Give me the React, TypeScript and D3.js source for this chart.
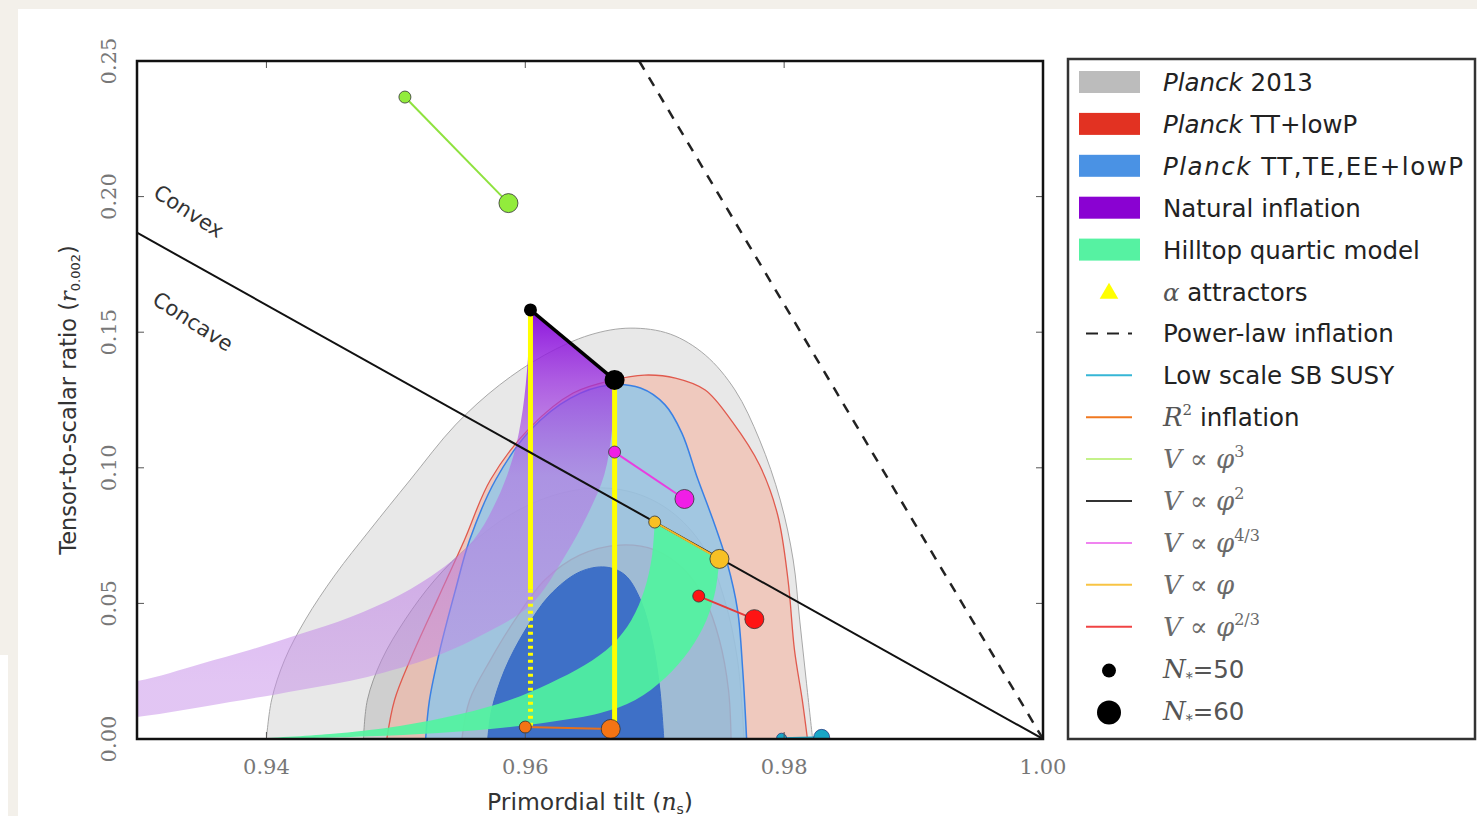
import React from 'react';
import * as d3 from 'd3';

const W = 1477;
const H = 816;

// axes
const xDomain: [number, number] = [0.93, 1.0];
const yDomain: [number, number] = [0, 0.25];
const xTicks = [0.94, 0.96, 0.98, 1.0];
const yTicks = [0, 0.05, 0.1, 0.15, 0.2, 0.25];

// Planck contours [n_s, r]
const planck2013_95: [number, number][] = [
  [0.94, 0], [0.9404, 0.0144], [0.9414, 0.0291], [0.943, 0.0439], [0.9453, 0.0605], [0.948, 0.0771],
  [0.9511, 0.0955], [0.9546, 0.1158], [0.958, 0.1305], [0.9615, 0.1416], [0.965, 0.149], [0.9681, 0.1515],
  [0.9712, 0.1493], [0.9739, 0.1416], [0.9762, 0.1287], [0.9781, 0.1103], [0.9797, 0.0881], [0.9807, 0.066],
  [0.9812, 0.0439], [0.9817, 0.0218], [0.9822, 0],
];
const planck2013_68: [number, number][] = [
  [0.9475, 0], [0.9478, 0.0144], [0.9489, 0.0291], [0.9507, 0.0439], [0.953, 0.0586], [0.9557, 0.0715],
  [0.9588, 0.0826], [0.9623, 0.09], [0.9658, 0.0926], [0.9689, 0.09], [0.9716, 0.0826], [0.9739, 0.0697],
  [0.9754, 0.0513], [0.9764, 0.0291], [0.9769, 0],
];
const ttLowP_95: [number, number][] = [
  [0.9493, 0], [0.9499, 0.0144], [0.9511, 0.0291], [0.9532, 0.0513], [0.9553, 0.0734], [0.9573, 0.0955],
  [0.9604, 0.115], [0.9637, 0.1276], [0.9668, 0.1324], [0.9692, 0.1342], [0.9716, 0.1331], [0.9739, 0.1287],
  [0.976, 0.1169], [0.9781, 0.101], [0.9795, 0.0826], [0.9803, 0.0586], [0.9808, 0.0328], [0.9814, 0.0144],
  [0.9818, 0],
];
const ttLowP_68: [number, number][] = [
  [0.9551, 0], [0.9557, 0.0144], [0.9573, 0.0291], [0.9592, 0.0439], [0.9615, 0.0586], [0.9642, 0.0678],
  [0.9673, 0.0715], [0.97, 0.0697], [0.9723, 0.0623], [0.9739, 0.0513], [0.975, 0.0365], [0.9757, 0.0181],
  [0.9759, 0],
];
const ttteee_95: [number, number][] = [
  [0.9523, 0], [0.9526, 0.0144], [0.9534, 0.0328], [0.9546, 0.0549], [0.9557, 0.0734], [0.9577, 0.0955],
  [0.9604, 0.1139], [0.9635, 0.1257], [0.9665, 0.1305], [0.9689, 0.1294], [0.9708, 0.1232], [0.9721, 0.1128],
  [0.9733, 0.0962], [0.9745, 0.0808], [0.9756, 0.0649], [0.9764, 0.0476], [0.9768, 0.0254], [0.9771, 0],
];
const ttteee_68: [number, number][] = [
  [0.9571, 0], [0.9574, 0.0107], [0.9584, 0.0254], [0.96, 0.0402], [0.9619, 0.0531], [0.9642, 0.0616],
  [0.9662, 0.0634], [0.9677, 0.0605], [0.9689, 0.0513], [0.9698, 0.0365], [0.9704, 0.0181], [0.9707, 0],
];

// Natural inflation band: N*=50 edge and N*=60 edge (from the phi^2 end downwards)
const natural50: [number, number][] = [
  [0.9604, 0.1582], [0.9602, 0.1398], [0.9598, 0.1213], [0.9591, 0.1047], [0.9578, 0.0881], [0.956, 0.0734],
  [0.9534, 0.0623], [0.9503, 0.0531], [0.9465, 0.045], [0.9426, 0.0387], [0.9387, 0.0328], [0.9349, 0.0277],
  [0.93, 0.0214], [0.925, 0.0195],
];
const natural60: [number, number][] = [
  [0.9669, 0.1324], [0.9667, 0.1139], [0.9661, 0.0973], [0.9648, 0.0826], [0.9631, 0.0678], [0.9604, 0.0494],
  [0.9565, 0.038], [0.9529, 0.0302], [0.9478, 0.0229], [0.9426, 0.0181], [0.9372, 0.0136], [0.93, 0.0081],
  [0.925, 0.0066],
];

// Hilltop quartic band
const hilltop50: [number, number][] = [
  [0.97, 0.08], [0.9698, 0.0678], [0.9692, 0.0549], [0.9682, 0.0439], [0.9667, 0.0347], [0.9646, 0.0273],
  [0.9619, 0.0206], [0.9588, 0.0144], [0.955, 0.0092], [0.9503, 0.0048], [0.9449, 0.0018], [0.9387, 0],
];
const hilltop60: [number, number][] = [
  [0.975, 0.0664], [0.9747, 0.0549], [0.974, 0.0439], [0.9727, 0.0328], [0.9708, 0.0225], [0.9685, 0.0144],
  [0.9658, 0.0096], [0.9619, 0.0063], [0.9573, 0.0037], [0.9519, 0.0018], [0.9465, 0.0007], [0.9403, 0],
];

// reference lines
const convexBoundary: [number, number][] = [[0.93, 0.1867], [1.0, 0]];
const powerLaw: [number, number][] = [[0.9688, 0.25], [1.0, 0]];

// alpha attractors (vertical tracks)
const alphaNs = [0.9604, 0.9669];
const alphaTop = [0.1582, 0.1324];
const alphaSolidEnd = [0.055, 0.0037];
const alphaBottom = [0.0044, 0.0037];

// monomial / model points: [N*=50, N*=60]
const phi3Pts: [number, number][] = [[0.9507, 0.2367], [0.9587, 0.1976]];
const phi2Pts: [number, number][] = [[0.9604, 0.1582], [0.9669, 0.1324]];
const phi43Pts: [number, number][] = [[0.9669, 0.1058], [0.9723, 0.0885]];
const phi1Pts: [number, number][] = [[0.97, 0.08], [0.975, 0.0664]];
const phi23Pts: [number, number][] = [[0.9734, 0.0527], [0.9777, 0.0442]];
const r2Pts: [number, number][] = [[0.96, 0.0044], [0.9666, 0.0037]];
const susyPts: [number, number][] = [[0.9798, 0.0003], [0.9829, 0.0006]];

const legendLabels = [
  'Planck 2013', 'Planck TT+lowP', 'Planck TT,TE,EE+lowP', 'Natural inflation', 'Hilltop quartic model',
  'α attractors', 'Power-law inflation', 'Low scale SB SUSY', 'R2 inflation', 'V ∝ φ3', 'V ∝ φ2',
  'V ∝ φ4/3', 'V ∝ φ', 'V ∝ φ2/3', 'N*=50', 'N*=60',
];

const SANS = "'DejaVu Sans', sans-serif";
const SERIF = "'DejaVu Serif', 'Liberation Serif', serif";

export default function App() {
  const x = d3.scaleLinear().domain(xDomain).range([137, 1043]);
  const y = d3.scaleLinear().domain(yDomain).range([739, 61]);
  const [x0, x1] = x.range();
  const [y0, y1] = y.range();

  const smooth = d3.line<[number, number]>().x(d => x(d[0])).y(d => y(d[1])).curve(d3.curveCatmullRom.alpha(0.5));
  const straight = d3.line<[number, number]>().x(d => x(d[0])).y(d => y(d[1]));
  const contour = (pts: [number, number][]) => (smooth(pts) || '') + 'Z';
  const band = (a: [number, number][], b: [number, number][]) => {
    const pa = smooth([...a].reverse()) || '';
    const pb = (smooth(b) || '').replace(/^M/, 'L');
    return pa + pb + 'Z';
  };

  const modelSeries = [
    { pts: phi3Pts, fill: '#92ec3c', line: '#8ee23e' },
    { pts: phi43Pts, fill: '#f01ee6', line: '#e83ee0' },
    { pts: phi1Pts, fill: '#f8c024', line: '#f0b428' },
    { pts: phi23Pts, fill: '#ff1414', line: '#e43a3a' },
    { pts: r2Pts, fill: '#f47414', line: '#e8701c' },
  ];

  const rowY = (i: number) => 82 + i * 41.9;
  const lx0 = 1079, lx1 = 1140, ltx = 1163;
  const fs = 24.5;
  const mfs = 26;

  const mathText = (parts: { t: string; it?: boolean; sup?: boolean }[], yy: number) => (
    <text x={ltx} y={yy} fontFamily={SERIF} fontSize={mfs} fill="#6a6a6a">
      {parts.map((p, k) => (
        <tspan key={k} fontStyle={p.it ? 'italic' : 'normal'} fontSize={p.sup ? 16 : mfs}
          dy={p.sup ? -11 : 0}>{p.t}</tspan>
      ))}
    </text>
  );

  const legend = legendLabels.map((lab, i) => {
    const cy = rowY(i);
    const ty = cy + 9;
    const patch = (c: string) => <rect x={lx0} y={cy - 11} width={lx1 - lx0} height={22} fill={c} />;
    const seg = (c: string, dash?: string) => (
      <line x1={1086} x2={1132} y1={cy} y2={cy} stroke={c} strokeWidth={2} strokeDasharray={dash} />
    );
    const sans = (content: React.ReactNode, len?: number) => (
      <text x={ltx} y={ty} fontFamily={SANS} fontSize={fs} fill="#222" textLength={len}
        lengthAdjust={len ? 'spacing' : undefined}>{content}</text>
    );
    switch (i) {
      case 0: return <g key={i}>{patch('#bcbcbc')}{sans(<><tspan fontStyle="italic">Planck</tspan> 2013</>)}</g>;
      case 1: return <g key={i}>{patch('#e23222')}{sans(<><tspan fontStyle="italic">Planck</tspan> TT+lowP</>)}</g>;
      case 2: return <g key={i}>{patch('#4a92e4')}{sans(<><tspan fontStyle="italic">Planck</tspan> TT,TE,EE+lowP</>, 300)}</g>;
      case 3: return <g key={i}>{patch('#8a02d2')}{sans(lab)}</g>;
      case 4: return <g key={i}>{patch('#56f2a2')}{sans(lab)}</g>;
      case 5: return (
        <g key={i}>
          <path d={d3.symbol(d3.symbolTriangle, 150)() || ''} transform={`translate(1109,${cy + 2})`} fill="#ffff00" />
          {sans(<><tspan fontFamily={SERIF} fontStyle="italic" fill="#555">α</tspan> attractors</>)}
        </g>
      );
      case 6: return <g key={i}>{seg('#222', '12 9')}{sans(lab)}</g>;
      case 7: return <g key={i}>{seg('#36b6d6')}{sans(lab)}</g>;
      case 8: return (
        <g key={i}>{seg('#f07820')}
          <text x={ltx} y={ty} fontFamily={SANS} fontSize={fs} fill="#222">
            <tspan fontFamily={SERIF} fontStyle="italic" fontSize={mfs} fill="#555">R</tspan>
            <tspan fontFamily={SERIF} fontSize={15} dy={-11} fill="#555">2</tspan>
            <tspan dy={11}> inflation</tspan>
          </text>
        </g>
      );
      case 9: return <g key={i}>{seg('#c4f28a')}{mathText([{ t: 'V', it: true }, { t: ' ∝ ' }, { t: 'φ', it: true }, { t: '3', sup: true }], ty)}</g>;
      case 10: return <g key={i}>{seg('#333')}{mathText([{ t: 'V', it: true }, { t: ' ∝ ' }, { t: 'φ', it: true }, { t: '2', sup: true }], ty)}</g>;
      case 11: return <g key={i}>{seg('#f084f0')}{mathText([{ t: 'V', it: true }, { t: ' ∝ ' }, { t: 'φ', it: true }, { t: '4/3', sup: true }], ty)}</g>;
      case 12: return <g key={i}>{seg('#f8c444')}{mathText([{ t: 'V', it: true }, { t: ' ∝ ' }, { t: 'φ', it: true }], ty)}</g>;
      case 13: return <g key={i}>{seg('#f04444')}{mathText([{ t: 'V', it: true }, { t: ' ∝ ' }, { t: 'φ', it: true }, { t: '2/3', sup: true }], ty)}</g>;
      case 14:
      case 15: return (
        <g key={i}>
          <circle cx={1109} cy={cy + 2} r={i === 14 ? 7 : 12} fill="#000" />
          <text x={ltx} y={ty} fontFamily={SERIF} fontSize={mfs} fill="#555">
            <tspan fontStyle="italic">N</tspan>
            <tspan fontSize={14} dy={5}>*</tspan>
            <tspan fontFamily={SANS} fontSize={fs} dy={-5}>{i === 14 ? '=50' : '=60'}</tspan>
          </text>
        </g>
      );
      default: return null;
    }
  });

  return (
    <svg width={W} height={H} style={{ position: 'absolute', left: 0, top: 0 }} xmlns="http://www.w3.org/2000/svg">
      <defs>
        <clipPath id="plotClip"><rect x={x0} y={y1} width={x1 - x0} height={y0 - y1} /></clipPath>
        <linearGradient id="natGrad" gradientUnits="userSpaceOnUse" x1={0} x2={0} y1={y(0.16)} y2={y(0.02)}>
          <stop offset="0" stopColor="#8200d8" stopOpacity={0.95} />
          <stop offset="0.2" stopColor="#9a2ee0" stopOpacity={0.75} />
          <stop offset="0.45" stopColor="#b468e4" stopOpacity={0.55} />
          <stop offset="1" stopColor="#c58ce8" stopOpacity={0.5} />
        </linearGradient>
      </defs>
      {/* page & card */}
      <rect x={0} y={0} width={W} height={H} fill="#f3f0ea" />
      <rect x={18} y={9} width={W - 18} height={H - 9} fill="#ffffff" />
      <rect x={0} y={655} width={8} height={H - 655} fill="#ffffff" />

      <g clipPath="url(#plotClip)">
        <path d={contour(planck2013_95)} fill="#e8e8e8" stroke="#a8a8a8" strokeWidth={1} />
        <path d={contour(planck2013_68)} fill="#cfcfcf" stroke="#9a9a9a" strokeWidth={1} />
        <path d={contour(ttLowP_95)} fill="#f4b4a2" fillOpacity={0.6} stroke="#e05a4e" strokeWidth={1.3} />
        <path d={contour(ttLowP_68)} fill="#e08a78" fillOpacity={0.7} stroke="#e05a4e" strokeWidth={1.3} />
        <path d={contour(ttteee_95)} fill="#88c6ec" fillOpacity={0.75} stroke="#3a80e4" strokeWidth={1.5} />
        <path d={contour(ttteee_68)} fill="#3a6cc6" fillOpacity={0.96} stroke="#3a6cc6" strokeWidth={1} />

        <path d={band(natural50, natural60)} fill="url(#natGrad)" />
        <path d={band(hilltop50, hilltop60)} fill="#50f59e" fillOpacity={0.9} />

        {/* alpha attractors */}
        {alphaNs.map((ns, k) => (
          <g key={k}>
            <line x1={x(ns)} x2={x(ns)} y1={y(alphaTop[k])} y2={y(alphaSolidEnd[k])} stroke="#ffff00" strokeWidth={5} />
            <line x1={x(ns)} x2={x(ns)} y1={y(alphaSolidEnd[k])} y2={y(alphaBottom[k])} stroke="#ffff00" strokeWidth={5} strokeDasharray="3 4" />
          </g>
        ))}

        <path d={straight(convexBoundary) || ''} stroke="#111" strokeWidth={2} fill="none" />
        <path d={straight(powerLaw) || ''} stroke="#222" strokeWidth={2.5} fill="none" strokeDasharray="10 9" />

        {/* low scale SB SUSY */}
        <path d={straight(susyPts) || ''} stroke="#22a8c8" strokeWidth={2} />
        <circle cx={x(susyPts[0][0])} cy={y(susyPts[0][1])} r={5} fill="#1aa6c6" stroke="#116" strokeWidth={0.6} />
        <circle cx={x(susyPts[1][0])} cy={y(susyPts[1][1])} r={8} fill="#1aa6c6" stroke="#116" strokeWidth={0.6} />
      </g>

      {/* phi^2 segment and points */}
      <path d={straight(phi2Pts) || ''} stroke="#000" strokeWidth={3.5} fill="none" />
      {modelSeries.map((s, k) => (
        <g key={k}>
          <path d={straight(s.pts) || ''} stroke={s.line} strokeWidth={2} fill="none" />
          <circle cx={x(s.pts[0][0])} cy={y(s.pts[0][1])} r={6} fill={s.fill} stroke="#333" strokeWidth={0.8} />
          <circle cx={x(s.pts[1][0])} cy={y(s.pts[1][1])} r={9.5} fill={s.fill} stroke="#333" strokeWidth={0.8} />
        </g>
      ))}
      <circle cx={x(phi2Pts[0][0])} cy={y(phi2Pts[0][1])} r={6.5} fill="#000" />
      <circle cx={x(phi2Pts[1][0])} cy={y(phi2Pts[1][1])} r={10} fill="#000" />

      {/* frame + ticks */}
      {yTicks.map(t => (
        <g key={'yt' + t}>
          <line x1={x0} x2={x0 + 7} y1={y(t)} y2={y(t)} stroke="#555" strokeWidth={1} />
          <line x1={x1 - 7} x2={x1} y1={y(t)} y2={y(t)} stroke="#555" strokeWidth={1} />
          <text transform={`translate(116,${y(t)}) rotate(-90)`} textAnchor="middle" fontFamily={SERIF}
            fontSize={21} fill="#777">{t.toFixed(2)}</text>
        </g>
      ))}
      {xTicks.map(t => (
        <g key={'xt' + t}>
          <line x1={x(t)} x2={x(t)} y1={y0} y2={y0 - 7} stroke="#555" strokeWidth={1} />
          <line x1={x(t)} x2={x(t)} y1={y1} y2={y1 + 7} stroke="#555" strokeWidth={1} />
          <text x={x(t)} y={774} textAnchor="middle" fontFamily={SERIF} fontSize={21} fill="#777">{t.toFixed(2)}</text>
        </g>
      ))}
      <rect x={x0} y={y1} width={x1 - x0} height={y0 - y1} fill="none" stroke="#111" strokeWidth={2.5} />

      {/* labels */}
      <text x={590} y={810} textAnchor="middle" fontFamily={SANS} fontSize={23.5} fill="#333">
        Primordial tilt (<tspan fontFamily={SERIF} fontStyle="italic">n</tspan><tspan fontSize={14} dy={4}>s</tspan><tspan dy={-4}>)</tspan>
      </text>
      <text transform="translate(76,400) rotate(-90)" textAnchor="middle" fontFamily={SANS} fontSize={22.5} fill="#333">
        Tensor-to-scalar ratio (<tspan fontFamily={SERIF} fontStyle="italic">r</tspan><tspan fontSize={13} dy={4}>0.002</tspan><tspan dy={-4}>)</tspan>
      </text>
      <text transform="translate(152,196) rotate(33)" fontFamily={SANS} fontSize={21} fill="#333">Convex</text>
      <text transform="translate(151,303) rotate(33)" fontFamily={SANS} fontSize={21} fill="#333">Concave</text>

      {/* legend */}
      <rect x={1068} y={59} width={407} height={680} fill="#fff" stroke="#333" strokeWidth={2.5} />
      {legend}
    </svg>
  );
}
